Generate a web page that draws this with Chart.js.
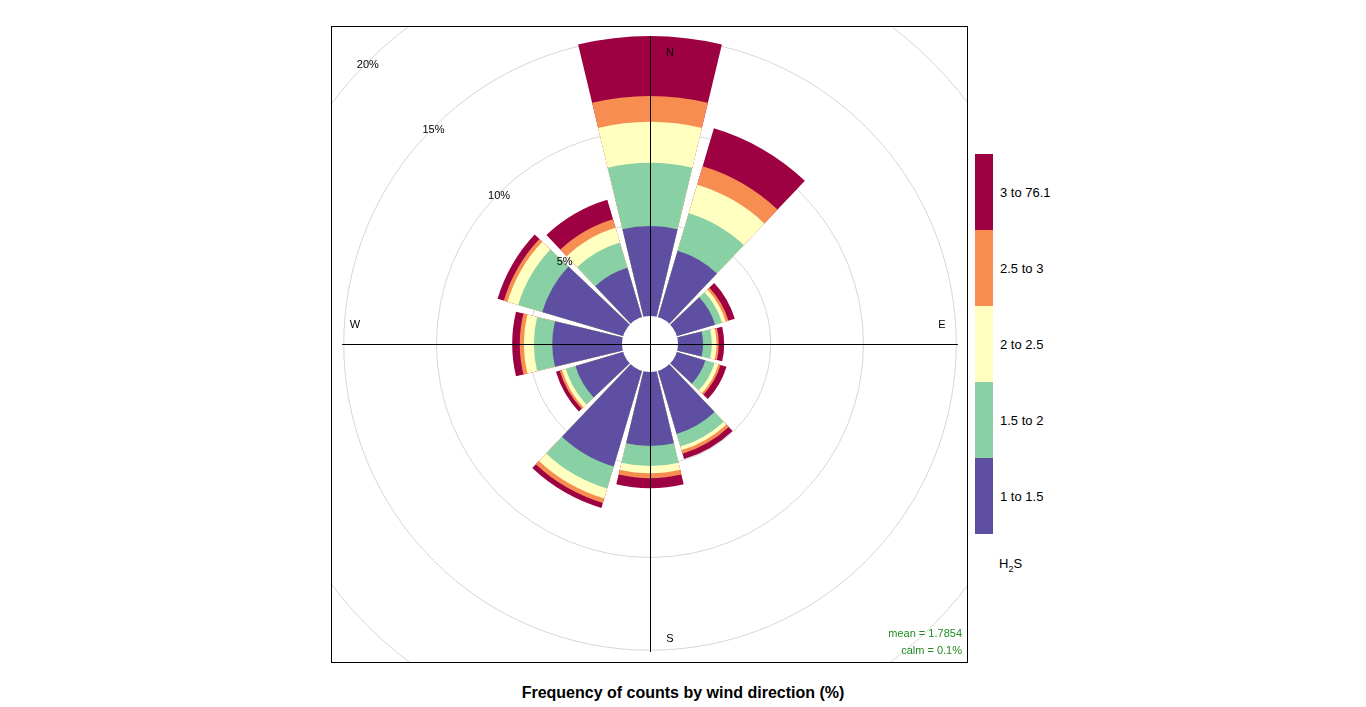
<!DOCTYPE html>
<html>
<head>
<meta charset="utf-8">
<script src="https://cdn.jsdelivr.net/npm/chart.js@4.4.1/dist/chart.umd.min.js"></script>
<style>
  body { margin: 0; background: #fff; font-family: "Liberation Sans", Arial, sans-serif; }
  #box { position: absolute; left: 331px; top: 26px; width: 635px; height: 635px; border: 1px solid #000; overflow: hidden; }
  #rose { position: absolute; left: -182px; top: -183px; }
  .stat { position: absolute; right: 5px; font-size: 11px; color: #228B22; }
  #key { position: absolute; left: 975px; top: 154px; }
  .blk { position: relative; width: 18px; height: 76px; }
  .blk span { position: absolute; left: 25px; top: 50%; transform: translateY(-45%); font-size: 13px; white-space: nowrap; color: #000; }
  #keyTitle { position: absolute; left: 999px; top: 556px; font-size: 13px; }
  #keyTitle sub { font-size: 9px; }
  #title { position: absolute; left: 0; width: 1366px; top: 684px; text-align: center; font-weight: bold; font-size: 16px; }
</style>
</head>
<body>
<div id="box">
  <canvas id="rose" width="1000" height="1000"></canvas>
  <div class="stat" style="top:600px">mean = 1.7854</div>
  <div class="stat" style="top:617px">calm = 0.1%</div>
</div>
<div id="key"></div>
<div id="keyTitle">H<sub>2</sub>S</div>
<div id="title">Frequency of counts by wind direction (%)</div>
<script>
// wind directions (degrees), 30 degree sectors
const directions = [0, 30, 60, 90, 120, 150, 180, 210, 240, 270, 300, 330];

// percentage of counts in each H2S band per direction
const band1 = [4.85, 3.73, 2.15, 1.35, 1.60, 3.55, 3.99, 5.38, 2.68, 3.76, 4.55, 2.78]; // 1 to 1.5
const band2 = [3.41, 2.11, 0.39, 0.47, 0.52, 0.71, 1.08, 1.24, 0.54, 0.99, 1.35, 1.42]; // 1.5 to 2
const band3 = [2.21, 1.61, 0.21, 0.26, 0.22, 0.21, 0.39, 0.56, 0.22, 0.54, 0.60, 0.82]; // 2 to 2.5
const band4 = [1.39, 1.03, 0.15, 0.12, 0.12, 0.19, 0.27, 0.25, 0.13, 0.22, 0.21, 0.49]; // 2.5 to 3
const band5 = [3.23, 2.14, 0.36, 0.29, 0.33, 0.30, 0.54, 0.28, 0.21, 0.41, 0.35, 1.09]; // 3 to 76.1

const bandLabels = ['1 to 1.5', '1.5 to 2', '2 to 2.5', '2.5 to 3', '3 to 76.1'];
const bandColors = ['#5E4FA2', '#89D0A5', '#FFFFBF', '#F88D52', '#9E0142'];
const gridLevels = [5, 10, 15, 20];

// scale: 0% sits on the edge of the calm hole
const rMin = -1.51;
const rMax = 25.445;
const wedgeAngle = 27;
const gapAngle = 3;

// cumulative stacks, with an empty slot between sectors for the gap
const bands = [band1, band2, band3, band4, band5];
const running = directions.map(() => 0);
const stacks = bands.map(b => b.map((v, i) => (running[i] += v)));
const totals = running.slice();

const labels = [];
directions.forEach(d => { labels.push(d + '°'); labels.push(''); });

const datasets = stacks.map((s, k) => ({
  label: bandLabels[k],
  data: s.flatMap(v => [v, 0]),
  backgroundColor: ctx => ctx.dataIndex % 2 ? 'rgba(0,0,0,0)' : bandColors[k],
  borderWidth: 0,
  angle: ctx => ctx.dataIndex % 2 ? gapAngle : wedgeAngle
}));

// calm hole, axis cross, ring labels and compass points
const roseDecor = {
  id: 'roseDecor',
  afterDatasetsDraw(chart) {
    const r = chart.scales.r;
    const ctx = chart.ctx;
    const cx = r.xCenter, cy = r.yCenter;
    ctx.save();
    ctx.fillStyle = '#fff';
    ctx.beginPath();
    ctx.arc(cx, cy, r.getDistanceFromCenterForValue(0), 0, Math.PI * 2);
    ctx.fill();

    const len = r.getDistanceFromCenterForValue(Math.max(...totals));
    ctx.strokeStyle = '#000';
    ctx.lineWidth = 1;
    ctx.beginPath();
    ctx.moveTo(cx - len, cy + 0.5); ctx.lineTo(cx + len, cy + 0.5);
    ctx.moveTo(cx + 0.5, cy - len); ctx.lineTo(cx + 0.5, cy + len);
    ctx.stroke();

    ctx.fillStyle = '#000';
    ctx.font = '11px "Liberation Sans", Arial, sans-serif';
    ctx.textAlign = 'center';
    ctx.textBaseline = 'middle';
    gridLevels.forEach(v => {
      const d = r.getDistanceFromCenterForValue(v);
      ctx.fillText(v + '%', cx - d * 0.7071, cy - d * 0.7071 + 3);
    });

    ctx.fillText('N', cx + 20, cy - 291);
    ctx.fillText('E', cx + 292, cy - 19);
    ctx.fillText('S', cx + 20, cy + 295);
    ctx.fillText('W', cx - 295, cy - 19);
    ctx.restore();
  }
};

new Chart(document.getElementById('rose'), {
  type: 'polarArea',
  data: { labels: labels, datasets: datasets },
  options: {
    responsive: false,
    animation: false,
    layout: { padding: 0 },
    plugins: { legend: { display: false }, tooltip: { enabled: false } },
    scales: {
      r: {
        min: rMin,
        max: rMax,
        startAngle: -wedgeAngle / 2,
        ticks: { display: false },
        afterBuildTicks: s => { s.ticks = gridLevels.map(v => ({ value: v })); },
        grid: { circular: true, color: '#d6d6d6', lineWidth: 1 },
        angleLines: { display: false },
        pointLabels: { display: false }
      }
    }
  },
  plugins: [roseDecor]
});

// colour key, top band first
const key = document.getElementById('key');
for (let k = bandLabels.length - 1; k >= 0; k--) {
  const b = document.createElement('div');
  b.className = 'blk';
  b.style.background = bandColors[k];
  const t = document.createElement('span');
  t.textContent = bandLabels[k];
  b.appendChild(t);
  key.appendChild(b);
}
</script>
</body>
</html>
